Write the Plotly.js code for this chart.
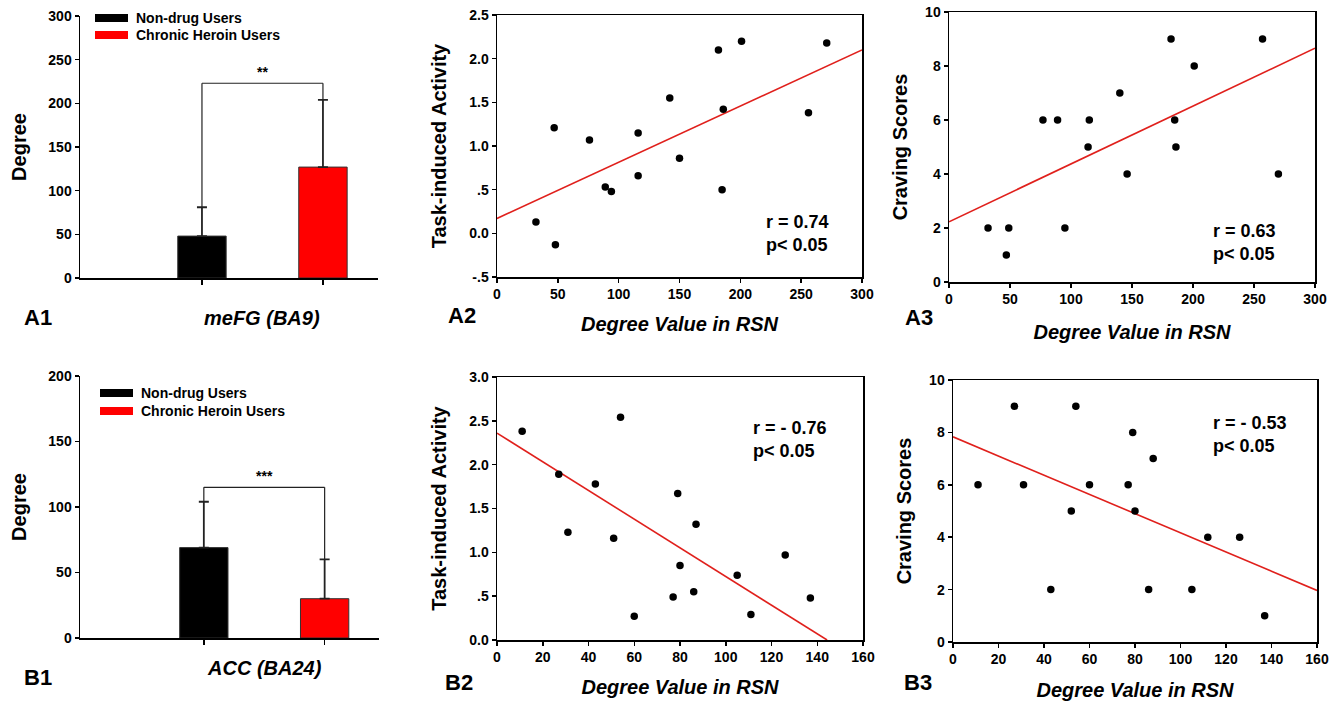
<!DOCTYPE html>
<html><head><meta charset="utf-8">
<script src="https://cdn.plot.ly/plotly-3.0.1.min.js"></script>
<style>html,body{margin:0;padding:0;background:#fff}#chart{width:1341px;height:701px}</style>
</head><body><div id="chart"></div>
<script>
// ---------- data ----------
const groups = ['Non-drug Users', 'Chronic Heroin Users'];
const a1Mean = [48, 127];
const a1Err = [33, 77];
const a1SigLevel = 223;
const a1SigText = '**';
const a1Region = 'meFG (BA9)';

const b1Mean = [69, 30];
const b1Err = [35, 30];
const b1SigLevel = 115;
const b1SigText = '***';
const b1Region = 'ACC (BA24)';

const a2X = [32, 47, 48, 76, 89, 94, 116, 116, 142, 150, 182, 185, 186, 201, 256, 271];
const a2Y = [0.13, 1.21, -0.13, 1.07, 0.53, 0.48, 1.15, 0.66, 1.55, 0.86, 2.10, 0.50, 1.42, 2.20, 1.38, 2.18];
const a2FitX = [0, 300];
const a2FitY = [0.17, 2.10];
const a2Stat = 'r = 0.74<br>p&lt; 0.05';

const a3X = [32, 47, 49, 77, 89, 95, 114, 115, 140, 146, 182, 185, 186, 201, 257, 270];
const a3Y = [2, 1, 2, 6, 6, 2, 5, 6, 7, 4, 9, 6, 5, 8, 9, 4];
const a3FitX = [0, 300];
const a3FitY = [2.23, 8.66];
const a3Stat = 'r = 0.63<br>p&lt; 0.05';

const b2X = [11, 27, 31, 43, 51, 54, 60, 77, 79, 80, 86, 87, 105, 111, 126, 137];
const b2Y = [2.38, 1.89, 1.23, 1.78, 1.16, 2.54, 0.27, 0.49, 1.67, 0.85, 0.55, 1.32, 0.74, 0.29, 0.97, 0.48];
const b2FitX = [0, 144.3];
const b2FitY = [2.36, 0];
const b2Stat = 'r = - 0.76<br>p&lt; 0.05';

const b3X = [11, 27, 31, 43, 52, 54, 60, 77, 79, 80, 86, 88, 105, 112, 126, 137];
const b3Y = [6, 9, 6, 2, 5, 9, 6, 6, 8, 5, 2, 7, 2, 4, 4, 1];
const b3FitX = [0, 160];
const b3FitY = [7.83, 1.97];
const b3Stat = 'r = - 0.53<br>p&lt; 0.05';

const activityTicks = ['-.5', '0.0', '.5', '1.0', '1.5', '2.0', '2.5'];
const activityTickVals = [-0.5, 0, 0.5, 1, 1.5, 2, 2.5];
const activityTicksB = ['0.0', '.5', '1.0', '1.5', '2.0', '2.5', '3.0'];
const activityTickValsB = [0, 0.5, 1, 1.5, 2, 2.5, 3];

const panelLabels = ['A1', 'A2', 'A3', 'B1', 'B2', 'B3'];
const xTitle = 'Degree Value in RSN';
const yTitles = ['Degree', 'Task-induced Activity', 'Craving Scores'];

// ---------- layout helpers ----------
const W = 1341, H = 701;
const F = 'Liberation Sans, Arial, sans-serif';
const px = v => v / W;
const py = v => 1 - v / H;
const barColors = ['#000000', '#ff0000'];
const fitColor = '#e0201c';
const bold = arr => arr.map(t => '<b>' + t + '</b>');

function baseAxis(extra) {
  return Object.assign({
    showline: true, linecolor: 'black', linewidth: 1.5,
    ticks: 'outside', ticklen: 4, tickwidth: 1.5, tickcolor: 'black',
    showgrid: false, zeroline: false, automargin: false, fixedrange: true,
    tickprefix: '<b>', ticksuffix: '</b>',
    tickfont: {family: F, size: 14, weight: 700, color: 'black'}
  }, extra);
}
function yTitle(t, standoff) {
  return {text: t, standoff: standoff, font: {family: F, size: 20, weight: 700, color: 'black'}};
}
function xTitleObj(standoff) {
  return {text: xTitle, standoff: standoff, font: {family: F, size: 20, weight: 700, style: 'italic', color: 'black'}};
}

function barTraces(means, errs, xa, ya) {
  return [{
    type: 'bar', x: groups, y: means, xaxis: xa, yaxis: ya, width: 0.4,
    marker: {color: barColors, line: {width: 1, color: '#333333'}},
    error_y: {type: 'data', symmetric: false, array: errs, arrayminus: errs.map(() => 0),
              color: '#222222', thickness: 1.8, width: 5},
    hoverinfo: 'skip', showlegend: false
  }];
}
function scatterTraces(xs, ys, fx, fy, xa, ya) {
  return [
    {type: 'scatter', mode: 'lines', x: fx, y: fy, xaxis: xa, yaxis: ya,
     line: {color: fitColor, width: 1.6}, hoverinfo: 'skip', showlegend: false},
    {type: 'scatter', mode: 'markers', x: xs, y: ys, xaxis: xa, yaxis: ya,
     marker: {color: 'black', size: 7.5}, hoverinfo: 'skip', showlegend: false}
  ];
}

const data = [].concat(
  barTraces(a1Mean, a1Err, 'x', 'y'),
  scatterTraces(a2X, a2Y, a2FitX, a2FitY, 'x2', 'y2'),
  scatterTraces(a3X, a3Y, a3FitX, a3FitY, 'x3', 'y3'),
  barTraces(b1Mean, b1Err, 'x4', 'y4'),
  scatterTraces(b2X, b2Y, b2FitX, b2FitY, 'x5', 'y5'),
  scatterTraces(b3X, b3Y, b3FitX, b3FitY, 'x6', 'y6')
);

const layout = {
  width: W, height: H, margin: {l: 0, r: 0, t: 0, b: 0},
  paper_bgcolor: 'white', plot_bgcolor: 'rgba(0,0,0,0)', showlegend: false,
  font: {family: F, color: 'black'},
  // A1
  xaxis: baseAxis({domain: [px(80), px(378)], anchor: 'y', type: 'category', range: [-1.008, 1.455],
                   showticklabels: false, ticklen: 5}),
  yaxis: baseAxis({domain: [py(278), py(16)], anchor: 'x', range: [0, 300], dtick: 50, tick0: 0,
                   title: yTitle(yTitles[0], 16)}),
  // A2
  xaxis2: baseAxis({domain: [px(497), px(862)], anchor: 'y2', range: [0, 300], dtick: 50, mirror: true,
                    title: xTitleObj(15)}),
  yaxis2: baseAxis({domain: [py(277), py(15)], anchor: 'x2', range: [-0.5, 2.5], mirror: true,
                    tickmode: 'array', tickvals: activityTickVals, ticktext: activityTicks,
                    title: yTitle(yTitles[1], 17)}),
  // A3
  xaxis3: baseAxis({domain: [px(949), px(1315)], anchor: 'y3', range: [0, 300], dtick: 50, mirror: true,
                    title: xTitleObj(18)}),
  yaxis3: baseAxis({domain: [py(282), py(12)], anchor: 'x3', range: [0, 10], dtick: 2, mirror: true,
                    title: yTitle(yTitles[2], 12)}),
  // B1
  xaxis4: baseAxis({domain: [px(80), px(379)], anchor: 'y4', type: 'category', range: [-1.025, 1.45],
                    showticklabels: false, ticklen: 5}),
  yaxis4: baseAxis({domain: [py(638), py(376)], anchor: 'x4', range: [0, 200], dtick: 50, tick0: 0,
                    title: yTitle(yTitles[0], 16)}),
  // B2
  xaxis5: baseAxis({domain: [px(497), px(863)], anchor: 'y5', range: [0, 160], dtick: 20, mirror: true,
                    title: xTitleObj(15)}),
  yaxis5: baseAxis({domain: [py(640), py(377)], anchor: 'x5', range: [0, 3], mirror: true,
                    tickmode: 'array', tickvals: activityTickValsB, ticktext: activityTicksB,
                    title: yTitle(yTitles[1], 17)}),
  // B3
  xaxis6: baseAxis({domain: [px(953), px(1317)], anchor: 'y6', range: [0, 160], dtick: 20, mirror: true,
                    title: xTitleObj(16)}),
  yaxis6: baseAxis({domain: [py(642), py(380)], anchor: 'x6', range: [0, 10], dtick: 2, mirror: true,
                    title: yTitle(yTitles[2], 12)}),
  shapes: [],
  annotations: []
};

// significance brackets
function bracket(means, errs, level, xa, ya, txt) {
  const top0 = means[0] + errs[0], top1 = means[1] + errs[1];
  const ln = {color: '#222222', width: 1.2};
  layout.shapes.push(
    {type: 'line', xref: xa, yref: ya, x0: 0, x1: 0, y0: top0, y1: level, line: ln},
    {type: 'line', xref: xa, yref: ya, x0: 0, x1: 1, y0: level, y1: level, line: ln},
    {type: 'line', xref: xa, yref: ya, x0: 1, x1: 1, y0: level, y1: top1, line: ln}
  );
  layout.annotations.push({xref: xa, yref: ya, x: 0.5, y: level, yanchor: 'bottom', yshift: 1,
    text: txt, showarrow: false, font: {family: F, size: 14, weight: 700, color: 'black'}});
}
bracket(a1Mean, a1Err, a1SigLevel, 'x', 'y', a1SigText);
bracket(b1Mean, b1Err, b1SigLevel, 'x4', 'y4', b1SigText);

// region labels under bars
layout.annotations.push(
  {xref: 'x', yref: 'paper', x: 0.5, y: py(318), yanchor: 'middle', text: a1Region, showarrow: false,
   font: {family: F, size: 20, weight: 700, style: 'italic', color: 'black'}},
  {xref: 'x4', yref: 'paper', x: 0.5, y: py(668), yanchor: 'middle', text: b1Region, showarrow: false,
   font: {family: F, size: 20, weight: 700, style: 'italic', color: 'black'}}
);

// legends (drawn as swatches + text)
function legendBlock(x0, yRows) {
  groups.forEach((g, i) => {
    layout.shapes.push({type: 'rect', xref: 'paper', yref: 'paper', x0: px(x0), x1: px(x0 + 33),
      y0: py(yRows[i] + 4), y1: py(yRows[i] - 4), fillcolor: barColors[i], line: {width: 0}});
    layout.annotations.push({xref: 'paper', yref: 'paper', x: px(x0 + 39), y: py(yRows[i]),
      xanchor: 'left', yanchor: 'middle', text: g, showarrow: false,
      font: {family: F, size: 14, weight: 700, color: 'black'}});
  });
}
legendBlock(95, [18, 35]);
legendBlock(100, [393, 411]);

// statistics
[[a2Stat, 764, 233], [a3Stat, 1211, 243], [b2Stat, 751, 440], [b3Stat, 1211, 434]].forEach(s => {
  layout.annotations.push({xref: 'paper', yref: 'paper', x: px(s[1]), y: py(s[2]), xanchor: 'left',
    yanchor: 'middle', align: 'left', text: s[0], showarrow: false,
    font: {family: F, size: 18, weight: 700, color: 'black'}});
});

// panel labels
[[panelLabels[0], 22, 317], [panelLabels[1], 446, 315], [panelLabels[2], 903, 317],
 [panelLabels[3], 22, 677], [panelLabels[4], 443, 682], [panelLabels[5], 902, 682]].forEach(p => {
  layout.annotations.push({xref: 'paper', yref: 'paper', x: px(p[1]), y: py(p[2]), xanchor: 'left',
    yanchor: 'middle', text: p[0], showarrow: false,
    font: {family: F, size: 22, weight: 700, color: 'black'}});
});

Plotly.newPlot('chart', data, layout, {staticPlot: true, displayModeBar: false});
</script>
</body></html>
